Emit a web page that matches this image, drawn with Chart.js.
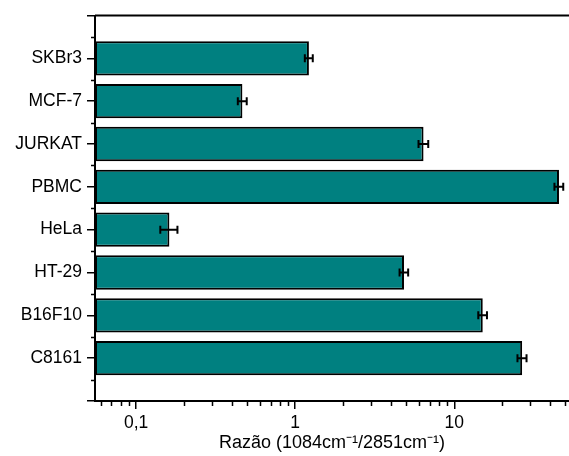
<!DOCTYPE html>
<html>
<head>
<meta charset="utf-8">
<script src="https://cdn.jsdelivr.net/npm/chart.js@4/dist/chart.umd.min.js"></script>
<style>
  html, body { margin: 0; padding: 0; background: #fff; }
  #wrap { width: 569px; height: 456px; }
</style>
</head>
<body>
<div id="wrap"><canvas id="c" width="569" height="456"></canvas></div>
<script>
// Cell lines, top to bottom
const categories = ['SKBr3', 'MCF-7', 'JURKAT', 'PBMC', 'HeLa', 'HT-29', 'B16F10', 'C8161'];
// Band intensity ratio 1084 cm-1 / 2851 cm-1
const ratios = [1.22, 0.466, 6.41, 45.5, 0.162, 4.83, 15.1, 26.7];
// Standard deviation of each ratio
const errors = [0.07, 0.03, 0.45, 2.9, 0.02, 0.3, 0.95, 1.75];

// Log axis: labelled decades and unlabelled minor ticks
const xTickValues = [0.1, 1, 10];
const xTickLabels = ['0,1', '1', '10'];
const xMinorTicks = [0.06, 0.07, 0.08, 0.09,
  0.2, 0.3, 0.4, 0.5, 0.6, 0.7, 0.8, 0.9,
  2, 3, 4, 5, 6, 7, 8, 9,
  20, 30, 40, 50];
const xMin = 0.0552;
const xMax = 52.6;

const axisTitle = 'Razão (1084cm\u207B\u00B9/2851cm\u207B\u00B9)';

// One empty slot above and below the bars
const labels = [''].concat(categories, ['']);
const values = [null].concat(ratios, [null]);

const FONT = "'Liberation Sans', Arial, sans-serif";

const decorations = {
  id: 'decorations',
  afterDatasetsDraw(chart) {
    const ctx = chart.ctx;
    const xs = chart.scales.x;
    const ys = chart.scales.y;
    const area = chart.chartArea;
    ctx.save();
    ctx.strokeStyle = '#000';
    ctx.lineCap = 'butt';

    // error bars
    ctx.lineWidth = 2;
    ratios.forEach((v, i) => {
      const e = errors[i];
      const y = ys.getPixelForValue(i + 1);
      const x1 = xs.getPixelForValue(v - e);
      const x2 = xs.getPixelForValue(v + e);
      ctx.beginPath();
      ctx.moveTo(x1, y); ctx.lineTo(x2, y);
      ctx.moveTo(x1, y - 4); ctx.lineTo(x1, y + 4);
      ctx.moveTo(x2, y - 4); ctx.lineTo(x2, y + 4);
      ctx.stroke();
    });

    // top frame line
    ctx.lineWidth = 2;
    ctx.beginPath();
    ctx.moveTo(area.left, area.top);
    ctx.lineTo(chart.width, area.top);
    ctx.stroke();

    // minor ticks on the value axis
    ctx.lineWidth = 1.5;
    ctx.beginPath();
    xMinorTicks.forEach(v => {
      const x = Math.round(xs.getPixelForValue(v)) + 0.5;
      ctx.moveTo(x, area.bottom);
      ctx.lineTo(x, area.bottom + 5);
    });
    // minor ticks between categories
    for (let i = 0; i < labels.length - 1; i++) {
      const y = Math.round(ys.getPixelForValue(i + 0.5)) + 0.5;
      ctx.moveTo(area.left - 4, y);
      ctx.lineTo(area.left, y);
    }
    ctx.stroke();
    ctx.restore();
  }
};

new Chart(document.getElementById('c'), {
  type: 'bar',
  data: {
    labels: labels,
    datasets: [{
      data: values,
      backgroundColor: '#008080',
      borderColor: '#000',
      borderWidth: 2,
      borderSkipped: false,
      barPercentage: 0.8,
      categoryPercentage: 1.0
    }]
  },
  options: {
    indexAxis: 'y',
    responsive: false,
    animation: false,
    events: [],
    layout: { padding: { top: 14, right: 0, left: 0, bottom: 0 } },
    plugins: {
      legend: { display: false },
      tooltip: { enabled: false },
      title: { display: false }
    },
    scales: {
      x: {
        type: 'logarithmic',
        min: xMin,
        max: xMax,
        afterBuildTicks(scale) {
          scale.ticks = xTickValues.map(v => ({ value: v }));
        },
        afterFit(scale) { scale.height = 55; },
        ticks: {
          autoSkip: false,
          maxRotation: 0,
          padding: 4,
          color: '#000',
          font: { family: FONT, size: 17.5 },
          callback(value) {
            const k = xTickValues.indexOf(value);
            return k >= 0 ? xTickLabels[k] : '';
          }
        },
        grid: {
          drawOnChartArea: false,
          tickLength: 8,
          color: '#000',
          lineWidth: 1.5
        },
        border: { display: true, color: '#000', width: 2 },
        title: {
          display: true,
          text: axisTitle,
          color: '#000',
          font: { family: FONT, size: 18 },
          padding: { top: 0, bottom: 2 }
        }
      },
      y: {
        type: 'category',
        offset: false,
        afterFit(scale) { scale.width = 95; },
        ticks: {
          autoSkip: false,
          padding: 5,
          color: '#000',
          font: { family: FONT, size: 17.5 }
        },
        grid: {
          offset: false,
          drawOnChartArea: false,
          tickLength: 8,
          color: '#000',
          lineWidth: 1.5
        },
        border: { display: true, color: '#000', width: 2 }
      }
    }
  },
  plugins: [decorations]
});
</script>
</body>
</html>
